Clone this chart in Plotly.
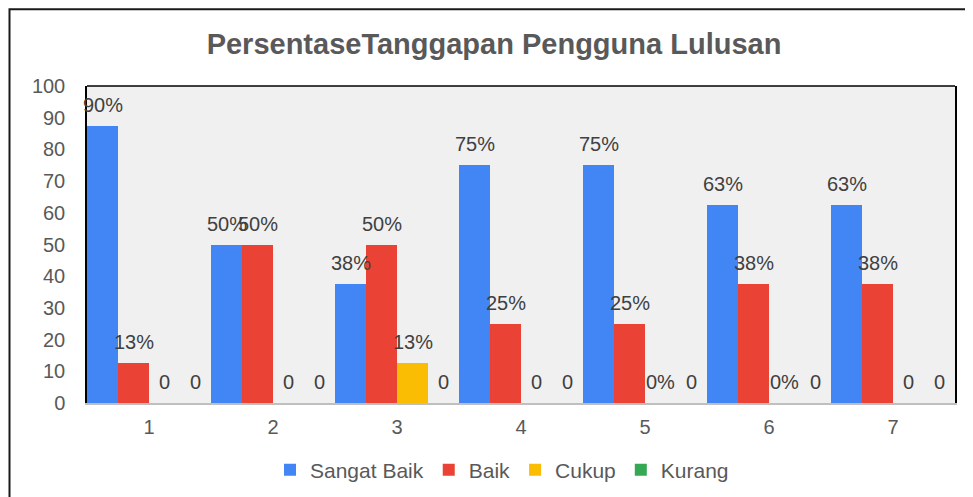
import plotly.graph_objects as go

categories = ["1", "2", "3", "4", "5", "6", "7"]
series_names = ["Sangat Baik", "Baik", "Cukup", "Kurang"]
sangat_baik = [87.5, 50, 37.5, 75, 75, 62.5, 62.5]
baik = [12.5, 50, 50, 25, 25, 37.5, 37.5]
cukup = [0, 0, 12.5, 0, 0, 0, 0]
kurang = [0, 0, 0, 0, 0, 0, 0]
label_sangat_baik = ["90%", "50%", "38%", "75%", "75%", "63%", "63%"]
label_baik = ["13%", "50%", "50%", "25%", "25%", "38%", "38%"]
label_cukup = ["0", "0", "13%", "0", "0%", "0%", "0"]
label_kurang = ["0", "0", "0", "0", "0", "0", "0"]
y_ticks = [0, 10, 20, 30, 40, 50, 60, 70, 80, 90, 100]

values = [sangat_baik, baik, cukup, kurang]
labels = [label_sangat_baik, label_baik, label_cukup, label_kurang]
colors = ["#4285F4", "#EA4335", "#FBBC04", "#34A853"]

FONT = "Liberation Sans, Arial, sans-serif"
OFF = 8  # page body margin
W, H = 973 - OFF, 497 - OFF
ML, MR, MT, MB = 87 - OFF, 18, 86 - OFF, 94
PW, PH = W - ML - MR, H - MT - MB

fig = go.Figure()
for name, vals, col in zip(series_names, values, colors):
    fig.add_trace(go.Bar(x=categories, y=vals, name=name, marker_color=col,
                         marker_line_width=0))

slot = PW / len(categories) / len(series_names)
annotations = []
for i, (vals, labs) in enumerate(zip(values, labels)):
    for j, (v, t) in enumerate(zip(vals, labs)):
        annotations.append(dict(x=j, y=v, xref="x", yref="y", text=t,
                                showarrow=False,
                                xshift=(i - 1.5) * slot, yshift=21,
                                yanchor="middle",
                                font=dict(family=FONT, size=20, color="#404040")))

fig.update_layout(
    width=W, height=H,
    margin=dict(l=ML, r=MR, t=MT, b=MB, autoexpand=False),
    paper_bgcolor="white", plot_bgcolor="#F0F0F0",
    barmode="group", bargap=0, bargroupgap=0,
    title=dict(text="<b>PersentaseTanggapan Pengguna Lulusan</b>",
               x=(494 - OFF) / W, xref="container", xanchor="center",
               y=1 - (44 - OFF) / H, yref="container", yanchor="middle",
               font=dict(family=FONT, size=29, color="#595959")),
    font=dict(family=FONT, color="#595959"),
    xaxis=dict(type="category", range=[-0.5, 6.5], showgrid=False,
               showline=True, automargin=False,
               linecolor="#BFBFBF", linewidth=2, ticks="",
               tickfont=dict(size=20, color="#595959"),
               ticklabelstandoff=5),
    yaxis=dict(range=[0, 100], tickvals=y_ticks, showgrid=False,
               zeroline=False, showline=True, linecolor="black",
               linewidth=1.5, mirror=True, ticks="", automargin=False,
               tickfont=dict(size=20, color="#595959"),
               ticklabelstandoff=16),
    legend=dict(orientation="h", x=(502 - OFF - ML) / PW, xanchor="center",
                y=-(470 - 403) / PH, yanchor="middle",
                font=dict(family=FONT, size=21, color="#595959"),
                itemwidth=30, traceorder="normal"),
    annotations=annotations,
    shapes=[
        dict(type="line", xref="paper", yref="paper", x0=0, x1=1, y0=1, y1=1,
             line=dict(color="black", width=1.5)),
        dict(type="rect", xref="paper", yref="paper",
             x0=(1.5 - ML) / PW, x1=1.3, y0=-0.6, y1=(PH + MT - 1.2) / PH,
             line=dict(color="#1a1a1a", width=2), layer="above"),
    ],
)

fig.write_html("out.html")
